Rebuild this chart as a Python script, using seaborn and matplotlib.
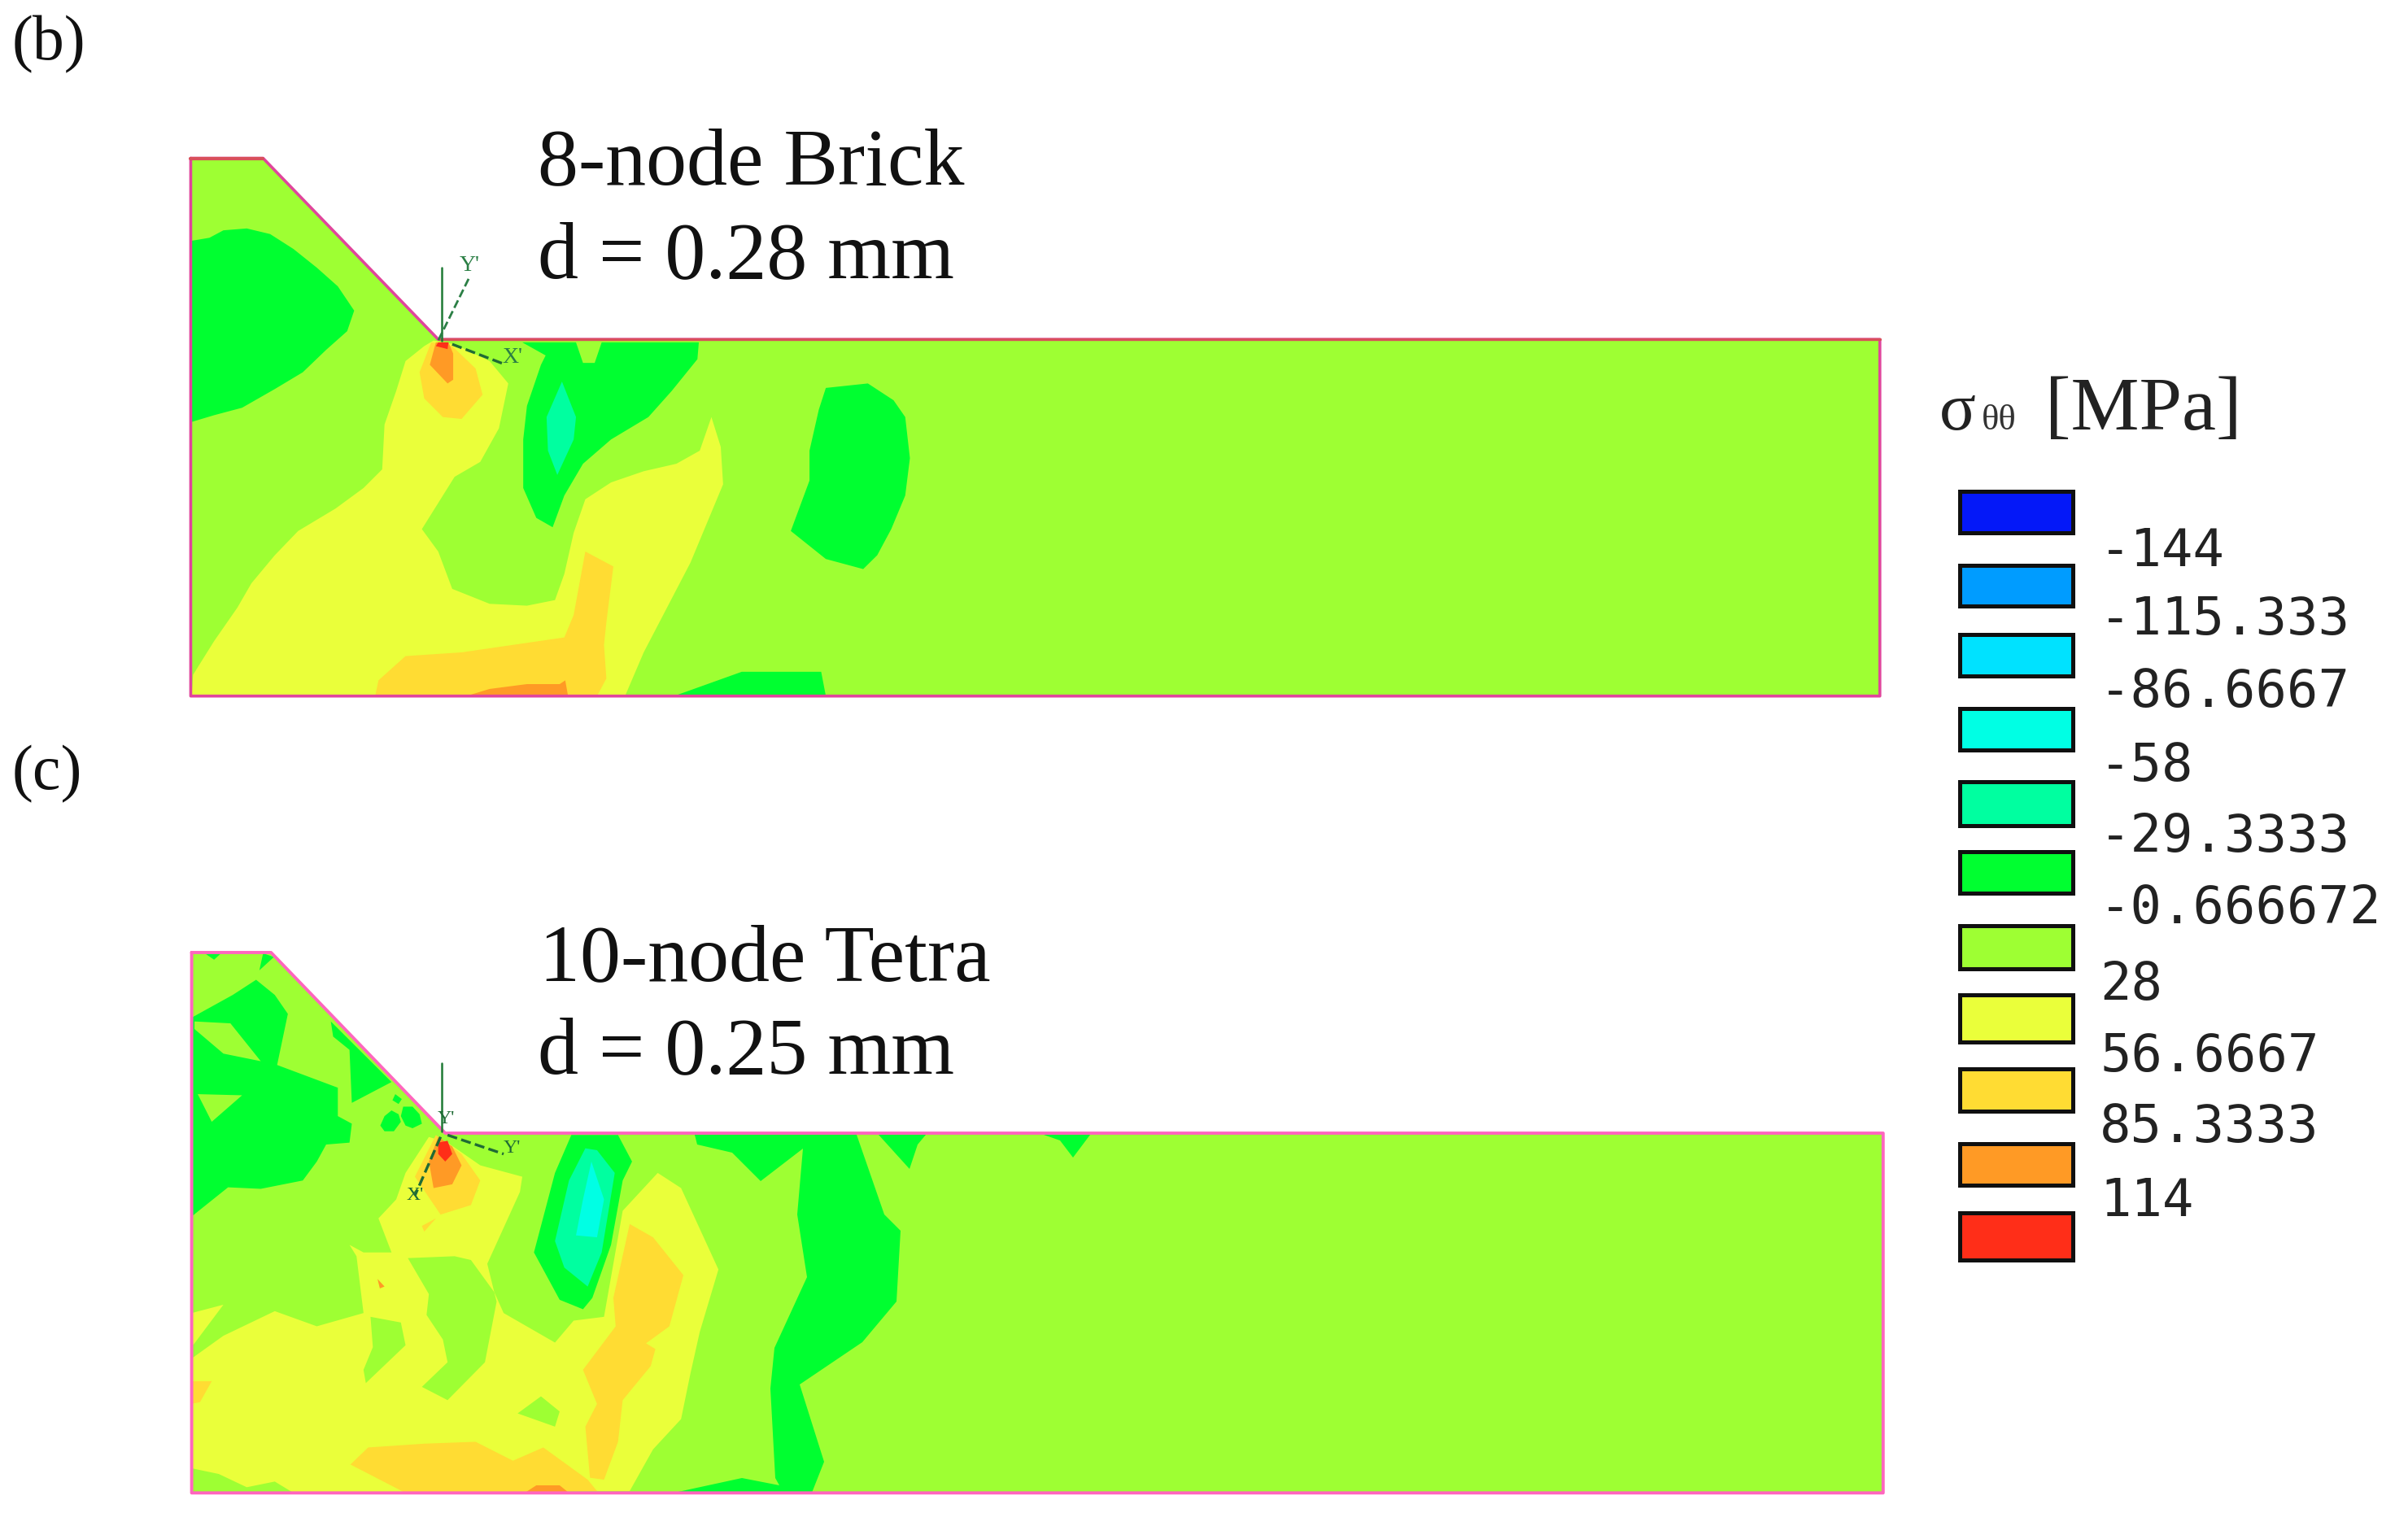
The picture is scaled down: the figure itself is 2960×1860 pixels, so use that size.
import matplotlib
matplotlib.use('Agg')
import matplotlib.pyplot as plt
import matplotlib.patches as mpatches
import pandas as pd
import seaborn as sns

# contour levels of the stress plot
level_labels = ['-144', '-115.333', '-86.6667', '-58', '-29.3333', '-0.666672',
                '28', '56.6667', '85.3333', '114']
level_colors = ['#0418F8', '#009CFF', '#00E2FF', '#00FFE4', '#00FFA0', '#00FF30',
                '#9EFF33', '#EAFF3A', '#FFDC33', '#FF9A25', '#FF2E18']
swatch_tops = [225, 350, 467, 592, 717, 835, 960, 1077, 1202, 1328, 1445]
swatch_bots = [295, 420, 538, 663, 790, 905, 1032, 1157, 1273, 1398, 1525]
label_rows = [322, 437, 560, 685, 805, 925, 1055, 1175, 1295, 1420]

# panel (b) contour outlines
b_outline = [(60, 97), (215, 97), (590, 582), (3677, 582), (3677, 1537), (60, 1537), (60, 97)]
b_green_left = [(62, 318), (100, 310), (130, 290), (180, 285), (230, 300), (280, 340), (330, 390),
                (375, 440), (410, 505), (395, 560), (350, 610), (300, 670), (240, 715), (170, 765),
                (110, 785), (62, 803)]
b_yellow = [(580, 585), (560, 600), (520, 640), (500, 720), (475, 810), (470, 930), (430, 980),
            (370, 1035), (290, 1095), (240, 1160), (190, 1235), (160, 1300), (110, 1390), (65, 1480),
            (62, 1537), (990, 1537), (1030, 1420), (1130, 1180), (1200, 970), (1195, 870), (1175, 790),
            (1150, 880), (1100, 915), (1030, 935), (960, 965), (905, 1010), (880, 1100), (860, 1210),
            (840, 1280), (780, 1295), (700, 1290), (620, 1250), (590, 1150), (555, 1090), (590, 1020),
            (625, 950), (680, 910), (720, 820), (740, 700), (700, 640), (625, 595)]
b_gold_notch = [(575, 590), (550, 670), (560, 740), (600, 790), (640, 795), (685, 730), (670, 660), (620, 600)]
b_orange_notch = [(585, 590), (572, 650), (610, 700), (622, 690), (622, 620), (612, 590)]
b_red_notch = [(590, 590), (585, 600), (610, 608), (612, 590)]
b_gold_bottom = [(455, 1537), (462, 1495), (520, 1430), (640, 1420), (860, 1380), (880, 1320), (905, 1150),
                 (965, 1190), (950, 1340), (945, 1400), (950, 1490), (930, 1537)]
b_orange_bottom = [(650, 1537), (700, 1518), (780, 1505), (850, 1505), (862, 1495), (868, 1537)]
b_green_mid = [(770, 590), (820, 625), (810, 650), (780, 760), (772, 850), (772, 980), (800, 1060), (835, 1085),
               (860, 1000), (900, 915), (960, 850), (1040, 790), (1090, 720), (1145, 635), (1148, 590),
               (940, 590), (925, 645), (900, 645), (885, 590)]
b_teal = [(855, 695), (885, 790), (880, 850), (845, 945), (825, 880), (822, 790)]
b_green_bottom = [(1095, 1537), (1240, 1472), (1410, 1472), (1420, 1537)]
b_green_right = [(1420, 712), (1510, 700), (1565, 745), (1590, 790), (1600, 900), (1590, 1000), (1560, 1090),
                 (1530, 1160), (1500, 1197), (1420, 1170), (1345, 1095), (1385, 960), (1385, 880), (1405, 770)]

# panel (c) contour outlines
c_outline = [(62, 88), (232, 88), (605, 565), (3684, 565), (3684, 1515), (62, 1515), (62, 88)]
c_green_left = [(62, 260), (150, 200), (200, 160), (240, 200), (268, 250), (245, 385), (375, 445), (375, 520),
                (405, 540), (400, 590), (350, 595), (330, 640), (300, 690), (210, 712), (140, 708), (62, 785)]
c_lime_a = [(68, 270), (145, 275), (210, 375), (130, 355), (68, 290)]
c_lime_b = [(75, 462), (170, 465), (105, 535)]
c_green_slope = [(360, 270), (490, 430), (405, 485), (400, 345), (365, 310)]
c_green_top_a = [(207, 135), (215, 90), (238, 100)]
c_green_top_b = [(90, 90), (125, 90), (110, 107)]
c_dot_a = [(490, 505), (505, 515), (510, 535), (495, 560), (475, 560), (466, 545), (475, 520)]
c_dot_b = [(515, 495), (535, 495), (550, 515), (555, 540), (535, 552), (520, 545), (510, 520)]
c_dot_c = [(498, 462), (512, 475), (505, 488), (492, 478)]
c_yellow = [(62, 1160), (130, 1100), (240, 1035), (330, 1075), (430, 1040), (415, 890), (400, 860), (430, 880),
            (490, 880), (462, 790), (500, 740), (520, 670), (570, 575), (610, 590), (680, 650), (770, 680),
            (765, 720), (695, 910), (710, 985), (730, 1040), (840, 1118), (880, 1060), (945, 1050), (985, 770),
            (1060, 670), (1110, 710), (1190, 925), (1150, 1090), (1130, 1200), (1110, 1320), (1050, 1400),
            (1000, 1510), (62, 1515)]
c_yellow_left = [(62, 1040), (130, 1018), (65, 1125)]
c_lime_c = [(525, 895), (625, 890), (660, 900), (710, 985), (715, 1010), (690, 1170), (610, 1270), (555, 1235),
            (610, 1170), (600, 1110), (565, 1045), (570, 990)]
c_lime_d = [(445, 1050), (510, 1065), (520, 1125), (435, 1225), (430, 1190), (450, 1130)]
c_lime_e = [(810, 1260), (850, 1300), (840, 1340), (760, 1305)]
c_lime_f = [(62, 1450), (120, 1465), (180, 1500), (240, 1485), (280, 1515), (62, 1515)]
c_gold_notch = [(585, 570), (540, 680), (595, 780), (660, 755), (680, 690), (640, 620)]
c_orange_notch = [(590, 575), (570, 640), (580, 710), (620, 700), (640, 650), (620, 600)]
c_red_notch = [(590, 590), (590, 620), (605, 640), (620, 620), (610, 585)]
c_gold_tick = [(555, 810), (585, 790), (560, 825)]
c_gold_dot = [(460, 950), (475, 970), (465, 975)]
c_gold_left = [(62, 1220), (105, 1220), (80, 1275), (62, 1280)]
c_gold_bottom = [(402, 1440), (440, 1395), (560, 1385), (670, 1380), (750, 1430), (815, 1395), (910, 1480),
                 (930, 1510), (520, 1515)]
c_gold_right = [(1000, 805), (965, 1000), (970, 1075), (900, 1190), (930, 1280), (905, 1340), (915, 1475),
                (945, 1480), (975, 1380), (985, 1270), (1045, 1180), (1055, 1135), (1035, 1120), (1085, 1075),
                (1115, 940), (1050, 840)]
c_orange_bottom = [(775, 1515), (800, 1495), (850, 1495), (870, 1515)]
c_green_mid = [(875, 570), (975, 570), (1005, 640), (985, 690), (960, 860), (920, 1000), (900, 1030), (850, 1005),
               (795, 880), (840, 670)]
c_teal = [(870, 690), (905, 605), (930, 610), (968, 670), (940, 880), (910, 970), (860, 920), (840, 850)]
c_cyan = [(918, 640), (945, 740), (930, 840), (885, 835), (900, 740)]

# these ones were read straight in figure pixels
c_green_band = [(854, 1395), (857, 1407), (900, 1417), (935, 1452), (987, 1412), (980, 1493), (992, 1570),
                (952, 1657), (947, 1707), (953, 1817), (958, 1826), (912, 1817), (829, 1835), (998, 1835),
                (1013, 1797), (983, 1702), (1060, 1650), (1102, 1600), (1107, 1513), (1087, 1493), (1053, 1395)]
c_tri_a = [(1080, 1395), (1138, 1395), (1128, 1407), (1118, 1437)]
c_tri_b = [(1283, 1395), (1340, 1395), (1319, 1423), (1303, 1402)]


# trace coordinates -> figure pixels
def to_b(pts):
    return [(200 + u / 1.742, 150 + v / 2.178) for u, v in pts]


def to_c(pts):
    return [(200 + u / 1.742, 1130 + v / 2.148) for u, v in pts]


def fill_region(ax, pts, level):
    xs, ys = zip(*pts)
    ax.fill(xs, ys, color=palette[level], lw=0)


def draw_line(ax, pts, color, lw, ls='-'):
    df = pd.DataFrame(pts, columns=['x', 'y'])
    sns.lineplot(data=df, x='x', y='y', sort=False, estimator=None, color=color, lw=lw, linestyle=ls, ax=ax)


sns.set_theme(style='white')
plt.rcParams['font.family'] = ['Liberation Serif', 'DejaVu Serif']
palette = sns.color_palette(level_colors)

fig = plt.figure(figsize=(29.6, 18.6), dpi=100)
ax = fig.add_axes([0, 0, 1, 1])

# panel (b)
fill_region(ax, to_b(b_outline), 6)
b_layers = [(b_green_left, 5), (b_yellow, 7), (b_gold_notch, 8), (b_orange_notch, 9), (b_red_notch, 10),
            (b_gold_bottom, 8), (b_orange_bottom, 9), (b_green_mid, 5), (b_teal, 4), (b_green_bottom, 5),
            (b_green_right, 5)]
for pts, level in b_layers:
    fill_region(ax, to_b(pts), level)
draw_line(ax, to_b(b_outline), '#E0459C', 2.6)
draw_line(ax, to_b(b_outline[:2]), '#D8505A', 3.0)
draw_line(ax, to_b(b_outline[2:4]), '#D8505A', 2.4)
draw_line(ax, to_b([(598, 390), (598, 585)]), '#1F7A35', 1.8)
draw_line(ax, to_b([(655, 420), (590, 585)]), '#2B7F45', 2.0, '--')
draw_line(ax, to_b([(620, 595), (735, 650)]), '#1F6B35', 2.4, '--')

# panel (c)
fill_region(ax, to_c(c_outline), 6)
c_layers = [(c_green_left, 5), (c_lime_a, 6), (c_lime_b, 6), (c_green_slope, 5), (c_green_top_a, 5),
            (c_green_top_b, 5), (c_dot_a, 5), (c_dot_b, 5), (c_dot_c, 5), (c_yellow, 7), (c_yellow_left, 7),
            (c_lime_c, 6), (c_lime_d, 6), (c_lime_e, 6), (c_lime_f, 6), (c_gold_notch, 8),
            (c_orange_notch, 9), (c_red_notch, 10), (c_gold_tick, 8), (c_gold_dot, 9), (c_gold_left, 8),
            (c_gold_bottom, 8), (c_gold_right, 8), (c_orange_bottom, 9), (c_green_mid, 5), (c_teal, 4),
            (c_cyan, 3)]
for pts, level in c_layers:
    fill_region(ax, to_c(pts), level)
for pts in [c_green_band, c_tri_a, c_tri_b]:
    fill_region(ax, pts, 5)
draw_line(ax, to_c(c_outline), '#FF66BE', 2.8)
draw_line(ax, to_c([(598, 380), (598, 560)]), '#1F7A35', 1.8)
draw_line(ax, to_c([(610, 570), (730, 620)]), '#1F6B35', 2.4, '--')
draw_line(ax, to_c([(595, 575), (540, 730)]), '#1F6B35', 2.4, '--')

# little local axes labels
for (x, y), s in zip(to_b([(657, 385), (748, 630)]), ["Y'", "X'"]):
    ax.text(x, y, s, fontsize=20, color='#2B7F45', ha='center', va='center')
for (x, y), s in zip(to_c([(748, 605), (540, 730), (607, 527)]), ["Y'", "X'", "Y'"]):
    ax.text(x, y, s, fontsize=17, color='#1F6B35', ha='center', va='center')

# annotations
ax.text(15, 55, '(b)', fontsize=56, color='#111111', ha='left', va='center')
ax.text(15, 952, '(c)', fontsize=56, color='#111111', ha='left', va='center')
ax.text(661, 202, '8-node Brick', fontsize=72, color='#111111', ha='left', va='center')
ax.text(661, 317, 'd = 0.28 mm', fontsize=72, color='#111111', ha='left', va='center')
ax.text(663, 1181, '10-node Tetra', fontsize=72, color='#111111', ha='left', va='center')
ax.text(661, 1295, 'd = 0.25 mm', fontsize=72, color='#111111', ha='left', va='center')

# legend
ax.text(2384, 508, 'σ', fontsize=60, color='#222222', ha='left', va='center')
ax.text(2436, 517, 'θθ', fontsize=32, color='#333333', ha='left', va='center')
ax.text(2514, 505, '[MPa]', fontsize=68, color='#222222', ha='left', va='center')
for top, bot, color in zip(swatch_tops, swatch_bots, palette):
    y0, y1 = 440 + top / 1.375, 440 + bot / 1.375
    ax.add_patch(mpatches.Rectangle((2409, y0), 139, y1 - y0, facecolor=color, edgecolor='#101010', lw=3.6))
for row, label in zip(label_rows, level_labels):
    ax.text(2581, 444 + row / 1.375, label, fontsize=46, family='DejaVu Sans Mono', color='#222222',
            ha='left', va='center')

ax.set_xlim(0, 2960)
ax.set_ylim(1860, 0)
ax.axis('off')

fig.savefig('out.png', dpi=100, facecolor='white')
